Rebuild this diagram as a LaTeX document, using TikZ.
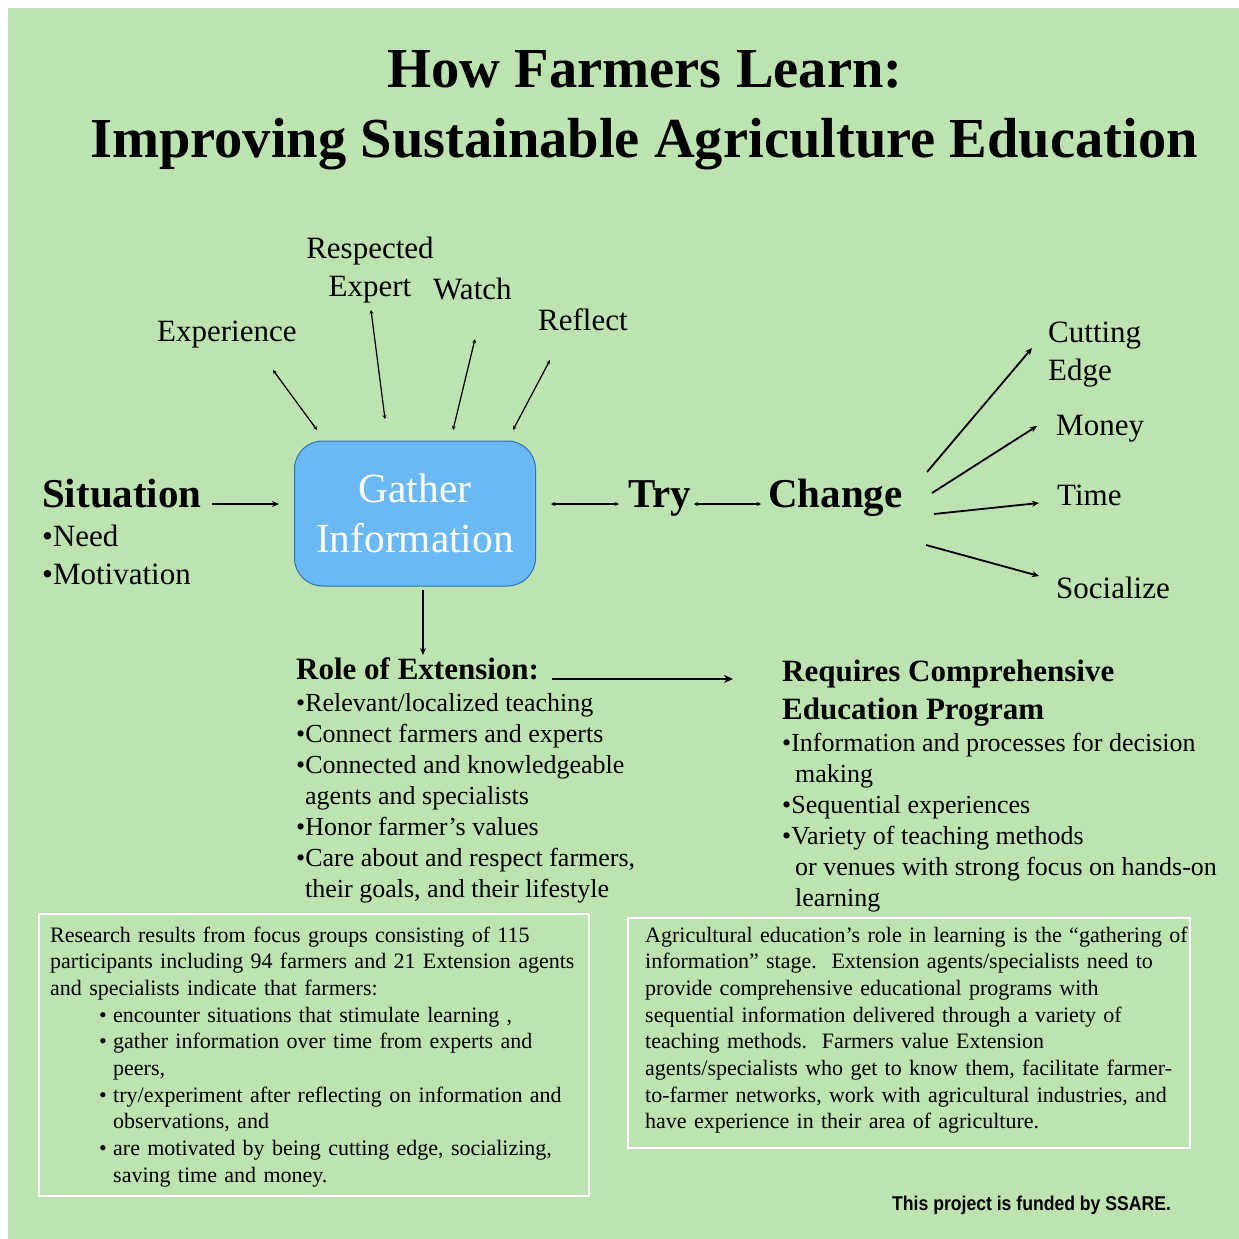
\documentclass[tikz,border=0pt]{standalone}
\usepackage{fontspec}
\setmainfont{Liberation Serif}
\newfontfamily\creditfont[FakeStretch=0.88]{Liberation Sans}
\usetikzlibrary{arrows.meta}

\definecolor{leaf}{RGB}{189,227,176}
\definecolor{sky}{RGB}{106,185,245}
\definecolor{skyedge}{RGB}{46,117,182}

\begin{document}
\begin{tikzpicture}[x=1pt, y=-1pt,
  every node/.style={inner sep=0pt, anchor=base west},
  title/.style={font=\bfseries\fontsize{56.5}{69}\selectfont, anchor=base},
  heading/.style={font=\bfseries\fontsize{41}{49}\selectfont},
  cue/.style={font=\fontsize{31}{38}\selectfont, align=left},
  subhead/.style={font=\bfseries\fontsize{31}{38}\selectfont, align=left},
  points/.style={font=\fontsize{26}{31}\selectfont, align=left},
  gather/.style={anchor=center, align=center, fill=sky, draw=skyedge,
                 line width=1pt, rounded corners=28pt, text=white,
                 minimum width=241pt, minimum height=145pt,
                 font=\fontsize{41.4}{50}\selectfont},
  frame/.style={draw=white, line width=1.5pt, anchor=center},
  note/.style={align=left, text width=600pt, font=\fontsize{22}{26.7}\selectfont},
  twoway/.style={{Stealth[length=4pt,width=4pt]}-{Stealth[length=4pt,width=4pt]},
                 line width=1.2pt},
  oneway/.style={-{Stealth[length=7pt,width=6pt]}, line width=1.8pt},
  heavy/.style={-{Stealth[length=9pt,width=8pt]}, line width=2.6pt}]

\fill[leaf] (8,8) rectangle (1239,1239);
\useasboundingbox (0,0) rectangle (1239,1239);

% title
\node[title] (title1) at (645,88) {How Farmers Learn:};
\node[title] (title2) at (644,157) {Improving Sustainable Agriculture Education};

% main flow (multi-line nodes sit on their last line)
\node[heading] (situation) at (42,507) {Situation};
\node[cue] (needs) at (42,584) {•Need\\•Motivation};
\node[gather] (info) at (415,513.5) {Gather\\Information};
\node[heading] (try) at (628,507) {Try};
\node[heading] (change) at (768,507) {Change};

% sources of information
\node[cue] (experience) at (157,341) {Experience};
\node[cue, align=center, anchor=base] (expert) at (370,296) {Respected\\Expert};
\node[cue] (watch) at (433,299) {Watch};
\node[cue] (reflect) at (538,330) {Reflect};

% motivations
\node[cue] (cutting) at (1048,380) {Cutting\\Edge};
\node[cue] (money) at (1056,435) {Money};
\node[cue] (time) at (1057,505) {Time};
\node[cue] (socialize) at (1056,598) {Socialize};

% extension
\node[subhead] (role) at (296,679) {Role of Extension:};
\node[points] (rolelist) at (296,897) {•Relevant/localized teaching\\
  •Connect farmers and experts\\
  •Connected and knowledgeable\\
  \hspace*{9pt}agents and specialists\\
  •Honor farmer’s values\\
  •Care about and respect farmers,\\
  \hspace*{9pt}their goals, and their lifestyle};
\node[subhead] (program) at (782,719) {Requires Comprehensive\\Education Program};
\node[points] (programlist) at (782,906) {•Information and processes for decision\\
  \hspace*{13pt}making\\
  •Sequential experiences\\
  •Variety of teaching methods\\
  \hspace*{13pt}or venues with strong focus on hands-on\\
  \hspace*{13pt}learning};

% notes (text width boxes sit on their first line)
\node[frame, minimum width=550pt, minimum height=282pt] (researchbox) at (314,1055) {};
\node[note] (research) at (50,942) {Research results from focus groups consisting of 115\\
  participants including 94 farmers and 21 Extension agents\\
  and specialists indicate that farmers:\\
  \hspace*{49pt}\makebox[14pt][l]{•}encounter situations that stimulate learning ,\\
  \hspace*{49pt}\makebox[14pt][l]{•}gather information over time from experts and\\
  \hspace*{63pt}peers,\\
  \hspace*{49pt}\makebox[14pt][l]{•}try/experiment after reflecting on information and\\
  \hspace*{63pt}observations, and\\
  \hspace*{49pt}\makebox[14pt][l]{•}are motivated by being cutting edge, socializing,\\
  \hspace*{63pt}saving time and money.};
\node[frame, minimum width=562pt, minimum height=230pt] (stagebox) at (909,1033) {};
\node[note] (stage) at (645,942) {Agricultural education’s role in learning is the “gathering of\\
  information” stage.\ \ Extension agents/specialists need to\\
  provide comprehensive educational programs with\\
  sequential information delivered through a variety of\\
  teaching methods.\ \ Farmers value Extension\\
  agents/specialists who get to know them, facilitate farmer-\\
  to-farmer networks, work with agricultural industries, and\\
  have experience in their area of agriculture.};
\node[font=\creditfont\bfseries\fontsize{20}{24}\selectfont]
  (credit) at (892,1210) {This project is funded by SSARE.};

% arrow ends
\foreach \pt/\px/\py in {sitA/212/504, sitB/279/504, infoA/551/504, infoB/619/504,
    tryA/694/504, tryB/761/504, expA/317/430, expB/273/370, rspA/385/419, rspB/371/310,
    wchA/453/430, wchB/475/339, rflA/513/430, rflB/550/360,
    cutA/927/472, cutB/1032/348, monA/932/493, monB/1037/426,
    timA/934/514, timB/1039/503, socA/926/545, socB/1039/576,
    downA/423/590, downB/423/655, roleA/552/679, roleB/733/679} {
  \coordinate (\pt) at (\px,\py);
}

\draw[oneway, line width=1.5pt] (sitA) -- (sitB);
\foreach \i/\j in {infoA/infoB, tryA/tryB, expA/expB, rspA/rspB, wchA/wchB, rflA/rflB} {
  \draw[twoway] (\i) -- (\j);
}
\foreach \i/\j in {cutA/cutB, monA/monB, timA/timB, socA/socB, downA/downB} {
  \draw[oneway] (\i) -- (\j);
}
\draw[heavy] (roleA) -- (roleB);
\end{tikzpicture}
\end{document}
